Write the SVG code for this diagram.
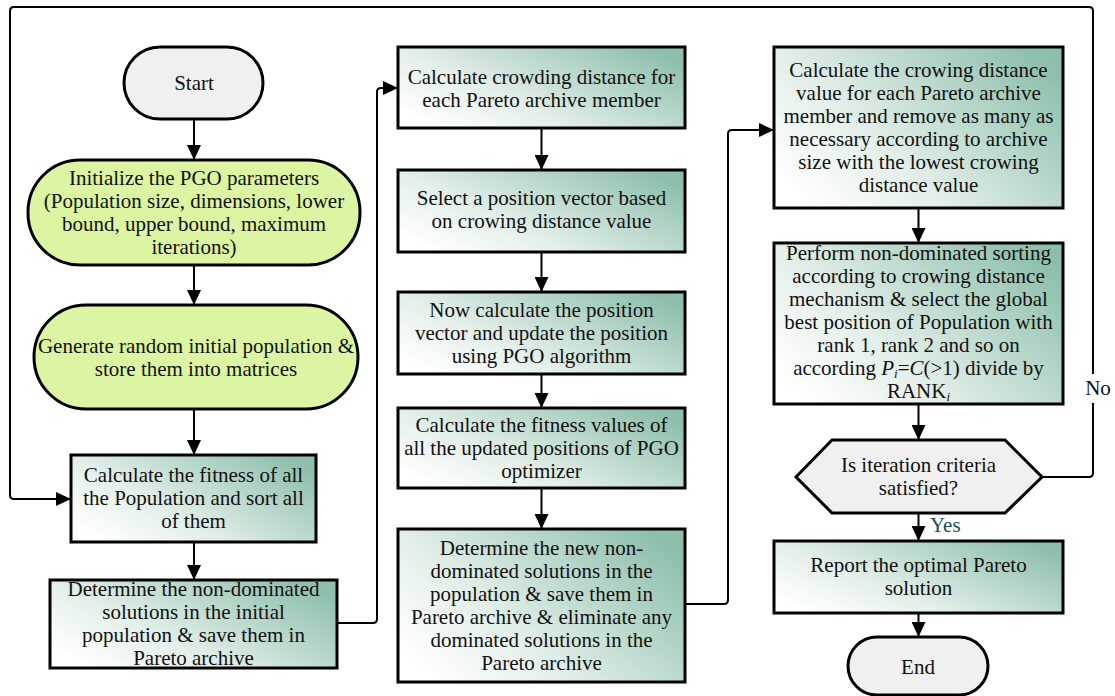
<svg xmlns="http://www.w3.org/2000/svg" width="1115" height="696" viewBox="0 0 1115 696">
<defs>
<linearGradient id="boxg" x1="0" y1="0.8" x2="1" y2="0.2">
<stop offset="0" stop-color="#ffffff"/>
<stop offset="0.35" stop-color="#e3efe9"/>
<stop offset="1" stop-color="#8dbfab"/>
</linearGradient>
<marker id="arr" markerUnits="userSpaceOnUse" markerWidth="16" markerHeight="14" refX="15" refY="7" orient="auto">
<path d="M0,0 L15,7 L0,14 z" fill="#000"/>
</marker>
<style>
.box{fill:url(#boxg);stroke:#000;stroke-width:3}
.oval{fill:#dcf5a2;stroke:#000;stroke-width:3}
.term{fill:#f0f0f0;stroke:#000;stroke-width:3}
.t{font-family:"Liberation Serif","Times New Roman",serif;font-size:21px;fill:#111;text-anchor:middle}
.c{fill:none;stroke:#000;stroke-width:2}
.ca{fill:none;stroke:#000;stroke-width:2;marker-end:url(#arr)}
</style>
</defs>
<rect width="1115" height="696" fill="#ffffff"/>

<g id="connectors">
<path class="ca" d="M194,119 V160"/>
<path class="ca" d="M194,265 V305"/>
<path class="ca" d="M194,409 V455"/>
<path class="ca" d="M194,542 V580"/>
<path class="ca" d="M337,623 H373 Q377,623 377,619 V92 Q377,88 381,88 H398"/>
<path class="ca" d="M541.5,128 V170"/>
<path class="ca" d="M541.5,252 V292"/>
<path class="ca" d="M541.5,374 V408"/>
<path class="ca" d="M541.5,488 V529"/>
<path class="ca" d="M685,604 H724 Q728,604 728,600 V134 Q728,130 732,130 H774"/>
<path class="ca" d="M918.5,208 V243"/>
<path class="ca" d="M918.5,404 V440"/>
<path class="ca" d="M918.5,513 V541"/>
<path class="ca" d="M918.5,613 V637"/>
<path class="ca" d="M1042,477 H1089 Q1093,477 1093,473 V11 Q1093,7 1089,7 H14 Q10,7 10,11 V495 Q10,499 14,499 H71"/>
<rect x="1083" y="374" width="30" height="29" fill="#ffffff"/>
<text class="t" x="1098" y="395">No</text>
<text x="930" y="532" style="font-family:'Liberation Serif','Times New Roman',serif;font-size:21px;fill:#1f4e57">Yes</text>
</g>

<g id="start">
<rect class="term" x="124" y="47" width="139" height="72" rx="36"/>
<text class="t" x="194" y="90">Start</text>
</g>

<g id="init">
<rect class="oval" x="28" y="160" width="332" height="105" rx="52"/>
<text class="t" x="194" y="185">Initialize the PGO parameters</text>
<text class="t" x="194" y="208">(Population size, dimensions, lower</text>
<text class="t" x="194" y="231">bound, upper bound, maximum</text>
<text class="t" x="194" y="254">iterations)</text>
</g>

<g id="generate">
<rect class="oval" x="34" y="305" width="324" height="104" rx="52"/>
<text class="t" x="196" y="353">Generate random initial population &amp;</text>
<text class="t" x="196" y="376">store them into matrices</text>
</g>

<g id="fitness">
<rect class="box" x="71" y="455" width="245" height="87"/>
<text class="t" x="193.5" y="482">Calculate the fitness of all</text>
<text class="t" x="193.5" y="505">the Population and sort all</text>
<text class="t" x="193.5" y="528">of them</text>
</g>

<g id="nondom">
<rect class="box" x="50" y="580" width="287" height="88"/>
<text class="t" x="193.5" y="596">Determine the non-dominated</text>
<text class="t" x="193.5" y="619">solutions in the initial</text>
<text class="t" x="193.5" y="642">population &amp; save them in</text>
<text class="t" x="193.5" y="665">Pareto archive</text>
</g>

<g id="crowding">
<rect class="box" x="398" y="47" width="287" height="81"/>
<text class="t" x="541.5" y="84">Calculate crowding distance for</text>
<text class="t" x="541.5" y="107">each Pareto archive member</text>
</g>

<g id="select">
<rect class="box" x="398" y="170" width="287" height="82"/>
<text class="t" x="541.5" y="205">Select a position vector based</text>
<text class="t" x="541.5" y="228">on crowing distance value</text>
</g>

<g id="update">
<rect class="box" x="398" y="292" width="287" height="82"/>
<text class="t" x="541.5" y="317">Now calculate the position</text>
<text class="t" x="541.5" y="340">vector and update the position</text>
<text class="t" x="541.5" y="363">using PGO algorithm</text>
</g>

<g id="fitvalues">
<rect class="box" x="398" y="408" width="287" height="80"/>
<text class="t" x="541.5" y="432">Calculate the fitness values of</text>
<text class="t" x="541.5" y="455">all the updated positions of PGO</text>
<text class="t" x="541.5" y="478">optimizer</text>
</g>

<g id="newnondom">
<rect class="box" x="398" y="529" width="287" height="153"/>
<text class="t" x="541.5" y="555">Determine the new non-</text>
<text class="t" x="541.5" y="578">dominated solutions in the</text>
<text class="t" x="541.5" y="601">population &amp; save them in</text>
<text class="t" x="541.5" y="624">Pareto archive &amp; eliminate any</text>
<text class="t" x="541.5" y="647">dominated solutions in the</text>
<text class="t" x="541.5" y="670">Pareto archive</text>
</g>

<g id="crowvalue">
<rect class="box" x="774" y="47" width="289" height="161"/>
<text class="t" x="918.5" y="77">Calculate the crowing distance</text>
<text class="t" x="918.5" y="100">value for each Pareto archive</text>
<text class="t" x="918.5" y="123">member and remove as many as</text>
<text class="t" x="918.5" y="146">necessary according to archive</text>
<text class="t" x="918.5" y="169">size with the lowest crowing</text>
<text class="t" x="918.5" y="192">distance value</text>
</g>

<g id="sorting">
<rect class="box" x="774" y="243" width="289" height="161"/>
<text class="t" x="918.5" y="260">Perform non-dominated sorting</text>
<text class="t" x="918.5" y="283">according to crowing distance</text>
<text class="t" x="918.5" y="306">mechanism &amp; select the global</text>
<text class="t" x="918.5" y="329">best position of Population with</text>
<text class="t" x="918.5" y="352">rank 1, rank 2 and so on</text>
<text class="t" x="918.5" y="375">according <tspan font-style="italic">P</tspan><tspan font-style="italic" font-size="13" dy="3">i</tspan><tspan dy="-3">=</tspan><tspan font-style="italic">C</tspan>(&gt;1) divide by</text>
<text class="t" x="918.5" y="398">RANK<tspan font-style="italic" font-size="13" dy="3">i</tspan></text>
</g>

<g id="decision">
<polygon class="term" points="796,477 832,440 1005,440 1042,477 1005,513 832,513"/>
<text class="t" x="918.5" y="472">Is iteration criteria</text>
<text class="t" x="918.5" y="495">satisfied?</text>
</g>

<g id="report">
<rect class="box" x="774" y="541" width="289" height="72"/>
<text class="t" x="918.5" y="572">Report the optimal Pareto</text>
<text class="t" x="918.5" y="595">solution</text>
</g>

<g id="end">
<rect class="term" x="848" y="637" width="140" height="58" rx="29"/>
<text class="t" x="918" y="674">End</text>
</g>
</svg>
